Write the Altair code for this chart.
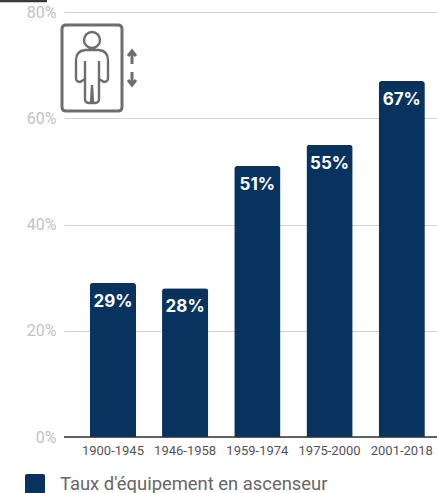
import altair as alt
import pandas as pd

periods = ["1900-1945", "1946-1958", "1959-1974", "1975-2000", "2001-2018"]
rates = [29, 28, 51, 55, 67]
labels = ["29%", "28%", "51%", "55%", "67%"]
y_ticks = [0, 20, 40, 60, 80]
series_name = "Taux d'équipement en ascenseur"

NAVY = "#08335f"
ICON = "#6e6e6e"

df = pd.DataFrame({"periode": periods, "taux": rates, "label": labels, "serie": series_name})

x_scale = alt.Scale(paddingInner=0.36, paddingOuter=0.263, align=0.68)

x = alt.X(
    "periode:N",
    sort=periods,
    title=None,
    scale=x_scale,
    axis=alt.Axis(
        labelAngle=0, labelFont="Roboto", labelFontSize=13, labelColor="#555555",
        labelPadding=7, ticks=False, domain=False, grid=False, labelOverlap=False,
    ),
)
y = alt.Y(
    "taux:Q",
    title=None,
    scale=alt.Scale(domain=[0, 80], nice=False),
    axis=alt.Axis(
        values=y_ticks, labelExpr="datum.value + '%'", labelFont="Roboto", labelFontSize=16,
        labelColor="#c2c2c2", labelPadding=8, ticks=False, domain=False,
        grid=True, gridColor="#d4d4d4", gridWidth=1.2,
    ),
)

bars = alt.Chart(df).mark_bar(cornerRadiusTopLeft=3, cornerRadiusTopRight=3).encode(
    x=x,
    y=y,
    color=alt.Color(
        "serie:N",
        title=None,
        scale=alt.Scale(domain=[series_name], range=[NAVY]),
        legend=alt.Legend(
            orient="none", legendX=-39, legendY=462, symbolType="M-1,-0.8 Q-1,-1 -0.8,-1 L0.8,-1 Q1,-1 1,-0.8 L1,0.8 Q1,1 0.8,1 L-0.8,1 Q-1,1 -1,0.8 Z",
            symbolSize=400, symbolStrokeWidth=0, labelFont="Roboto", labelFontSize=18.4,
            labelColor="#666666", labelOffset=15, labelLimit=320,
        ),
    ),
)

values = alt.Chart(df).mark_text(
    font="Inter", fontSize=17, fontWeight="bold", color="white", dy=19, baseline="middle"
).encode(x=alt.X("periode:N", sort=periods, scale=x_scale), y=alt.Y("taux:Q"), text="label:N")

baseline = alt.Chart(df.head(1)).mark_rule(color="#333333", strokeWidth=1.5).encode(
    x=alt.value(0), x2=alt.value(373), y=alt.value(425)
)

# Lift pictogram: cabin, person, and up/down arrows, in pixel units around each anchor
CABIN = "M-26,-43 L26,-43 Q30,-43 30,-39 L30,39 Q30,43 26,43 L-26,43 Q-30,43 -30,39 L-30,-39 Q-30,-43 -26,-43 Z"
PERSON = (
    "M-8,-28 a8,8 0 1,0 16,0 a8,8 0 1,0 -16,0 Z "
    "M-7,-18 L7,-18 Q16,-17 16,-8 L16,10 Q16,14 12,14 L7,11 "
    "M-7,-18 Q-16,-17 -16,-8 L-16,10 Q-16,14 -12,14 L-7,11 "
    "M-7,-7 L-7,31 Q-7,35 -3,35 L-1,35 L0,17 L1,35 L3,35 Q7,35 7,31 L7,-7"
)
ARROWS = "M0,-17 L0,-4 M-4,-12 L0,-17 L4,-12 M0,4 L0,17 M-4,12 L0,17 L4,12"

icon_df = pd.DataFrame({"part": ["cabin"]})


def pictogram(path, px, py, width):
    return alt.Chart(icon_df).mark_point(
        shape=path, size=4, filled=False, stroke=ICON, strokeWidth=width, opacity=1
    ).encode(x=alt.value(px), y=alt.value(py))


icon = (
    pictogram(CABIN, 28, 56, 3)
    + pictogram(PERSON, 28, 56, 2.4)
    + pictogram(ARROWS, 68, 56, 3)
)

# Short dark stroke along the very top edge of the page
top_stroke = alt.Chart(icon_df).mark_rule(color="#3a3a3a", strokeWidth=2.5, clip=False).encode(
    x=alt.value(-64), x2=alt.value(-17), y=alt.value(-11)
)

chart = (
    alt.layer(bars, values, baseline, icon, top_stroke)
    .properties(
        width=373,
        height=425,
        autosize=alt.AutoSizeParams(type="none"),
        padding={"left": 64, "top": 12, "right": 0, "bottom": 56},
        background="white",
    )
    .configure_view(stroke=None)
)

chart.save("out.html", embed_options={"renderer": "svg", "actions": False})
